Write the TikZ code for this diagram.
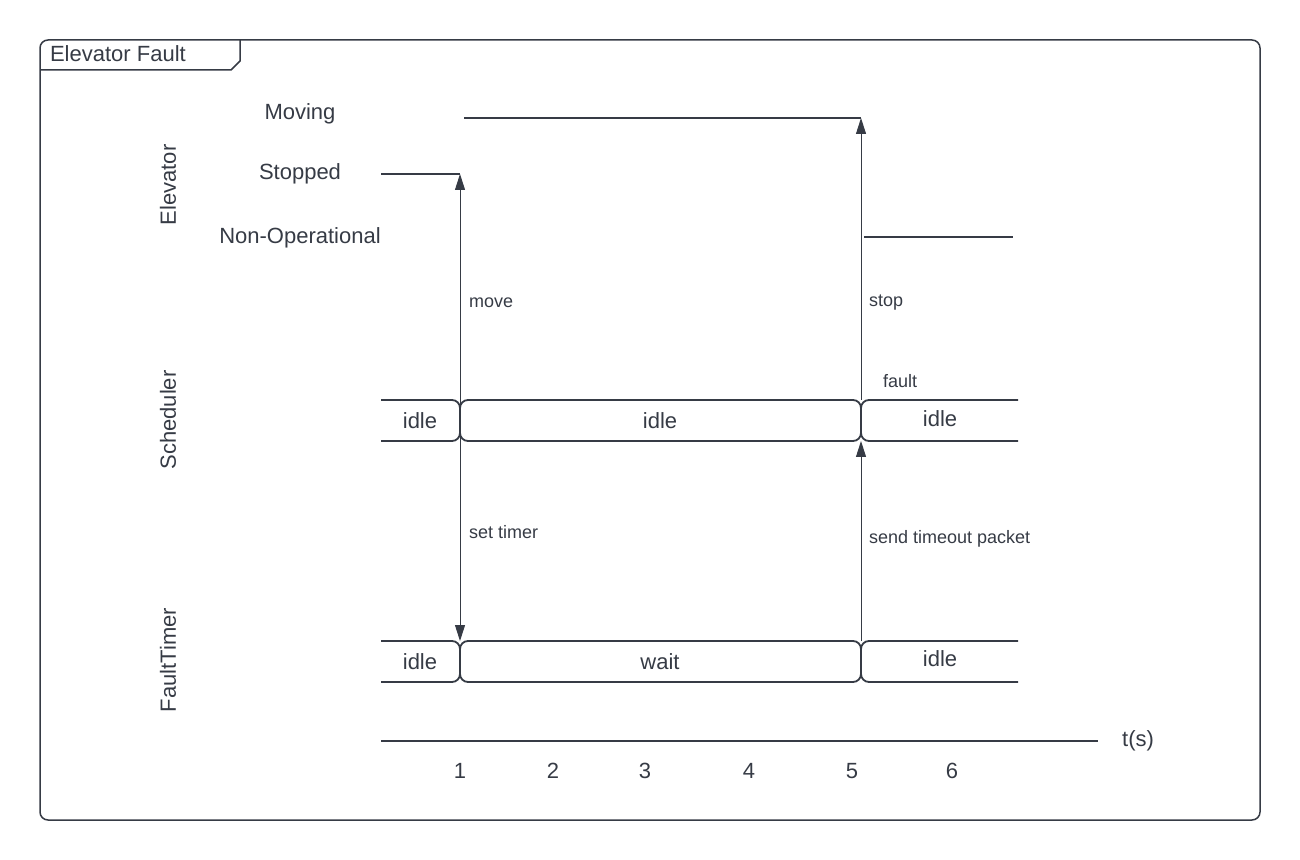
\documentclass[tikz,border=0pt]{standalone}
\usepackage{fontspec}
\setmainfont{Liberation Sans}
\usetikzlibrary{arrows.meta}
\definecolor{ink}{HTML}{363B45}

\begin{document}
\begin{tikzpicture}[x=0.5pt,y=-0.5pt,
  every node/.style={text=ink,font=\fontsize{11}{13}\selectfont},
  small/.style={font=\fontsize{9}{11}\selectfont},
  frame/.style={draw=ink,line width=0.75pt},
  level/.style={draw=ink,line width=1pt},
  phase/.style={draw=ink,line width=0.9pt,rounded corners=4},
  sig/.style={draw=ink,line width=0.5pt,-{Triangle[length=8pt,width=5pt]}}]
\useasboundingbox (0,0) rectangle (1300,860);
% frame
\draw[frame,rounded corners=4] (40,40) rectangle (1260,820);
\draw[frame] (40,70) -- (231,70) -- (240,61) -- (240,40);
\node[anchor=west] (title) at (43,54) {Elevator Fault};
% lanes
\node[rotate=90] (elev) at (168,185) {Elevator};
\node[rotate=90] (sched) at (168,420) {Scheduler};
\node[rotate=90] (ftimer) at (168,660) {FaultTimer};
% elevator states
\node (moving) at (300,114) {Moving};
\node (stopped) at (300,174) {Stopped};
\node (nonop) at (300,238) {Non-Operational};
\coordinate (stopA) at (381,174);
\coordinate (stopB) at (460,174);
\coordinate (moveA) at (464,118);
\coordinate (moveB) at (861,118);
\coordinate (nonopA) at (864,237);
\coordinate (nonopB) at (1013,237);
\draw[level] (stopA) -- (stopB);
\draw[level] (moveA) -- (moveB);
\draw[level] (nonopA) -- (nonopB);
% scheduler phases
\draw[phase] (381,400) -- (460,400) -- (460,441) -- (381,441);
\draw[phase] (460,400) rectangle (861,441);
\draw[phase] (1018,400) -- (861,400) -- (861,441) -- (1018,441);
\node (sidle1) at (420,421) {idle};
\node (sidle2) at (660,421) {idle};
\node (sidle3) at (940,419) {idle};
% fault timer phases
\draw[phase] (381,641) -- (460,641) -- (460,682) -- (381,682);
\draw[phase] (460,641) rectangle (861,682);
\draw[phase] (1018,641) -- (861,641) -- (861,682) -- (1018,682);
\node (fidle1) at (420,662) {idle};
\node (fwait) at (660,662) {wait};
\node (fidle2) at (940,659) {idle};
% signals
\coordinate (schedA) at (460,420);
\coordinate (ftA) at (460,641);
\coordinate (schedTopB) at (861,400);
\coordinate (schedBotB) at (861,441);
\coordinate (ftB) at (861,641);
\draw[sig] (schedA) -- (stopB);
\draw[sig] (schedA) -- (ftA);
\draw[sig] (schedTopB) -- (moveB);
\draw[sig] (ftB) -- (schedBotB);
\node[small,anchor=west] (move) at (462,303) {move};
\node[small,anchor=west] (settimer) at (462,532) {set timer};
\node[small,anchor=west] (stop) at (862,303) {stop};
\node[small,anchor=west] (fault) at (876,381) {fault};
\node[small,anchor=west] (timeout) at (862,539) {send timeout packet};
% time axis
\coordinate (axA) at (381,741);
\coordinate (axB) at (1098,741);
\draw[level] (axA) -- (axB);
\node (ts) at (1138,741) {t(s)};
\foreach \x/\t in {460/1,553/2,645/3,749/4,852/5,952/6}
  \node (t\t) at (\x,771) {\t};
\end{tikzpicture}
\end{document}
